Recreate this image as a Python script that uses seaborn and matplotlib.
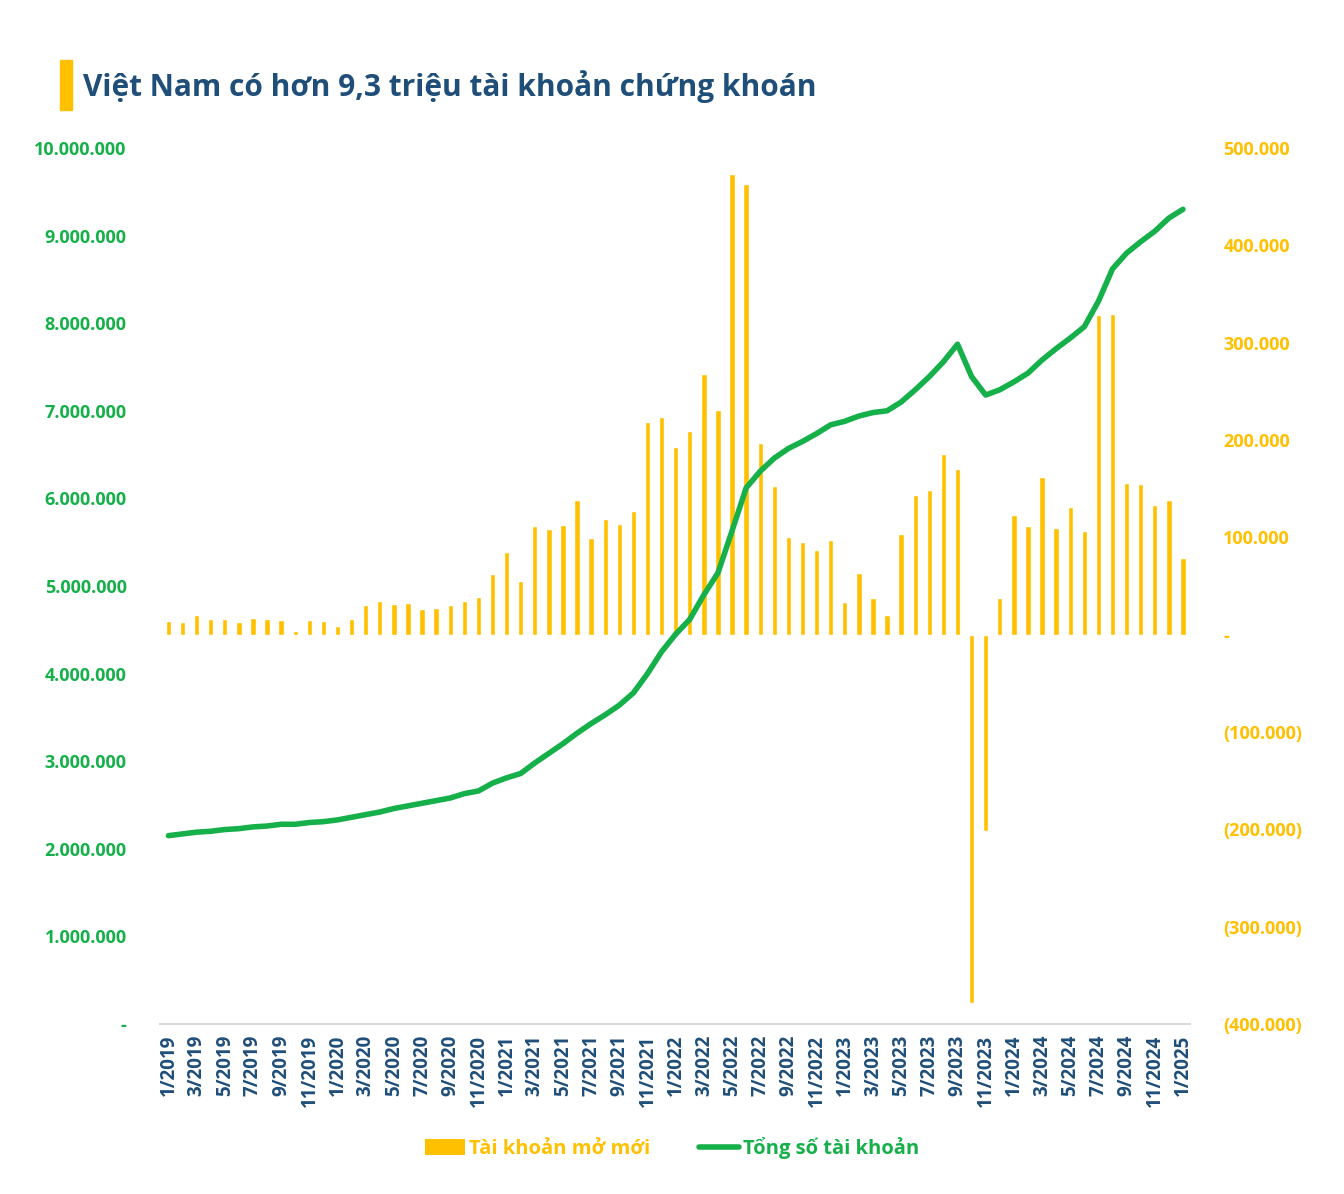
import numpy as np
import pandas as pd
import matplotlib
matplotlib.use("Agg")
import matplotlib.pyplot as plt
import seaborn as sns
from matplotlib.patches import Patch, Rectangle
from matplotlib.lines import Line2D
from matplotlib.ticker import FuncFormatter

# Months 1/2019 .. 1/2025
months = [f"{m}/{y}" for y in range(2019, 2026) for m in range(1, 13)][:73]

# New accounts per month (Tài khoản mở mới)
new_accounts = [
    14000, 13000, 20000, 16000, 16000, 13000, 17000, 16000, 15000, 4000, 15000, 14000,
    9000, 16000, 30000, 35000, 32000, 33000, 26000, 27000, 30000, 35000, 39000, 62000,
    85000, 55000, 112000, 109000, 113000, 138000, 99000, 119000, 114000, 127000, 219000, 224000,
    193000, 209000, 268000, 231000, 473000, 463000, 197000, 153000, 100000, 95000, 87000, 97000,
    34000, 63000, 38000, 20000, 103000, 143000, 149000, 186000, 170000, -378000, -202000, 38000,
    123000, 112000, 162000, 110000, 131000, 106000, 328000, 329000, 156000, 155000, 133000, 138000,
    79000,
]

# Total accounts (Tổng số tài khoản), millions
total_accounts_m = [
    2.15, 2.17, 2.19, 2.20, 2.22, 2.23, 2.25, 2.26, 2.28, 2.28, 2.30, 2.31,
    2.33, 2.36, 2.39, 2.42, 2.46, 2.49, 2.52, 2.55, 2.58, 2.63, 2.66, 2.75,
    2.81, 2.86, 2.98, 3.09, 3.20, 3.32, 3.43, 3.53, 3.64, 3.78, 4.00, 4.25,
    4.45, 4.62, 4.90, 5.15, 5.63, 6.12, 6.31, 6.46, 6.57, 6.65, 6.74, 6.84,
    6.88, 6.94, 6.98, 7.00, 7.10, 7.24, 7.39, 7.56, 7.76, 7.39, 7.18, 7.24,
    7.33, 7.43, 7.58, 7.71, 7.83, 7.96, 8.25, 8.62, 8.80, 8.93, 9.05, 9.20,
    9.30,
]

df = pd.DataFrame({
    "month": months,
    "idx": np.arange(len(months)),
    "new": new_accounts,
    "total": np.array(total_accounts_m) * 1_000_000,
})

ORANGE = "#FFC000"
GREEN = "#16B04A"
NAVY = "#1F4E79"
FONT = ["Open Sans", "DejaVu Sans"]

sns.set_style("white")
plt.rcParams["font.family"] = FONT
plt.rcParams["font.weight"] = "bold"

fig = plt.figure(figsize=(13.44, 11.94), dpi=100)
ax_bar = fig.add_axes([160 / 1344, 170 / 1194, 1030 / 1344, 876 / 1194])
ax_line = ax_bar.twinx()

# bars (right axis)
sns.barplot(data=df, x="idx", y="new", color=ORANGE, width=0.38,
            saturation=1, ax=ax_bar)
ax_bar.set_ylim(-400000, 500000)
ax_bar.set_yticks(np.arange(-400000, 500001, 100000))

def fmt_right(v, pos):
    if v == 0:
        return "-"
    s = f"{abs(int(v)):,}".replace(",", ".")
    return f"({s})" if v < 0 else s

ax_bar.yaxis.set_major_formatter(FuncFormatter(fmt_right))
ax_bar.yaxis.tick_right()
ax_bar.tick_params(axis="y", colors=ORANGE, labelsize=13, length=0, pad=24)

# line (left axis)
sns.lineplot(data=df, x="idx", y="total", color=GREEN, linewidth=4,
             ax=ax_line, solid_joinstyle="round", solid_capstyle="round")
ax_line.set_ylim(0, 10_000_000)
ax_line.set_yticks(np.arange(0, 10_000_001, 1_000_000))

def fmt_left(v, pos):
    if v == 0:
        return "-"
    return f"{int(v):,}".replace(",", ".")

ax_line.yaxis.set_major_formatter(FuncFormatter(fmt_left))
ax_line.yaxis.tick_left()
ax_line.tick_params(axis="y", colors=GREEN, labelsize=13, length=0, pad=24)

ax_bar.set_xlim(-0.6, 72.5)
ax_bar.set_xticks(df["idx"][::2])
ax_bar.set_xticklabels(df["month"][::2], rotation=90, color=NAVY,
                       fontsize=13.5, fontweight="bold")
ax_bar.tick_params(axis="x", length=0, pad=8)

for a in (ax_bar, ax_line):
    a.set_xlabel("")
    a.set_ylabel("")
    for s in a.spines.values():
        s.set_visible(False)
    for lbl in a.get_yticklabels():
        lbl.set_fontweight("bold")
ax_bar.spines["bottom"].set_visible(True)
ax_bar.spines["bottom"].set_color("#D9D9D9")
ax_bar.spines["bottom"].set_linewidth(1.5)

# title with accent bar
fig.patches.append(Rectangle((60 / 1344, 1 - 110 / 1194), 12 / 1344, 50 / 1194,
                             transform=fig.transFigure, color=ORANGE))
fig.text(83 / 1344, 1 - 87 / 1194, "Việt Nam có hơn 9,3 triệu tài khoản chứng khoán",
         fontsize=21.5, fontweight="bold", color=NAVY, va="center", ha="left")

handles = [Patch(facecolor=ORANGE, edgecolor="none"),
           Line2D([0], [0], color=GREEN, lw=4)]
leg = fig.legend(handles, ["Tài khoản mở mới", "Tổng số tài khoản"],
                 loc="center", bbox_to_anchor=(0.5, 1 - 1148 / 1194), ncol=2,
                 frameon=False, fontsize=14.5, handlelength=2.0, handleheight=0.8,
                 handletextpad=0.2, columnspacing=2.4)
for t, c in zip(leg.get_texts(), [ORANGE, GREEN]):
    t.set_color(c)
    t.set_fontweight("bold")

fig.savefig("out.png", dpi=100, facecolor="white")
